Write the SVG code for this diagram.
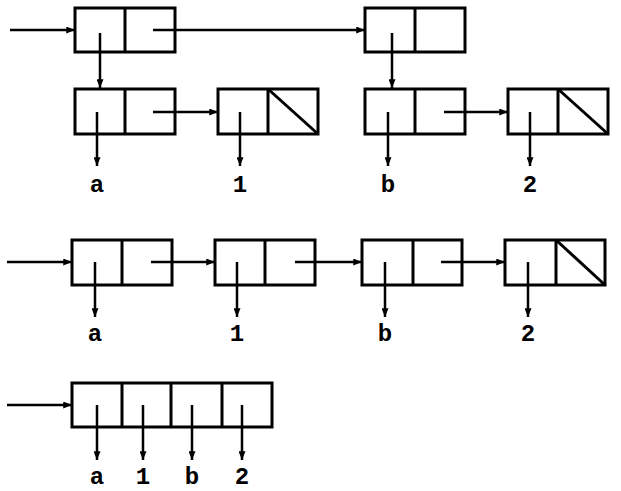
<svg xmlns="http://www.w3.org/2000/svg" width="621" height="491" viewBox="0 0 621 491">
<style>
.box{fill:none;stroke:#000;stroke-width:3}
.div{stroke:#000;stroke-width:3}
.ln{stroke:#000;stroke-width:2.5;fill:none;marker-end:url(#ah)}
.lbl{font-family:'Liberation Mono','DejaVu Sans Mono',monospace;font-weight:bold;font-size:24px;text-anchor:middle;fill:#000}
</style>
<defs>
<marker id="ah" viewBox="0 0 10 8" refX="10" refY="4" markerWidth="9" markerHeight="7" markerUnits="userSpaceOnUse" orient="auto">
<path d="M0,0 L10,4 L0,8 z" fill="#000"/>
</marker>
</defs>
<rect width="621" height="491" fill="#fff"/>

<!-- Diagram 1 -->
<g id="n1a"><rect class="box" x="75" y="8" width="100" height="44"/><line class="div" x1="125" y1="8" x2="125" y2="52"/></g>
<g id="n1b"><rect class="box" x="365" y="8" width="100" height="44"/><line class="div" x1="415" y1="8" x2="415" y2="52"/></g>
<g id="n1c"><rect class="box" x="75" y="89" width="100" height="45"/><line class="div" x1="125" y1="89" x2="125" y2="134"/></g>
<g id="n1d"><rect class="box" x="218" y="89" width="100" height="45"/><line class="div" x1="268" y1="89" x2="268" y2="134"/><line class="div" x1="268" y1="89" x2="318" y2="134"/></g>
<g id="n1e"><rect class="box" x="365" y="89" width="100" height="45"/><line class="div" x1="415" y1="89" x2="415" y2="134"/></g>
<g id="n1f"><rect class="box" x="508" y="89" width="100" height="45"/><line class="div" x1="558" y1="89" x2="558" y2="134"/><line class="div" x1="558" y1="89" x2="608" y2="134"/></g>
<g id="l1a"><text class="lbl" x="97" y="192">a</text></g>
<g id="l1b"><text class="lbl" x="240" y="192">1</text></g>
<g id="l1c"><text class="lbl" x="388" y="192">b</text></g>
<g id="l1d"><text class="lbl" x="530" y="192">2</text></g>

<!-- Diagram 2 -->
<g id="n2a"><rect class="box" x="72" y="240" width="100" height="45"/><line class="div" x1="122" y1="240" x2="122" y2="285"/></g>
<g id="n2b"><rect class="box" x="215" y="240" width="100" height="45"/><line class="div" x1="265" y1="240" x2="265" y2="285"/></g>
<g id="n2c"><rect class="box" x="362" y="240" width="100" height="45"/><line class="div" x1="413" y1="240" x2="413" y2="285"/></g>
<g id="n2d"><rect class="box" x="505" y="240" width="100" height="45"/><line class="div" x1="556" y1="240" x2="556" y2="285"/><line class="div" x1="556" y1="240" x2="605" y2="285"/></g>
<g id="l2a"><text class="lbl" x="95" y="341">a</text></g>
<g id="l2b"><text class="lbl" x="237" y="341">1</text></g>
<g id="l2c"><text class="lbl" x="385" y="341">b</text></g>
<g id="l2d"><text class="lbl" x="528" y="341">2</text></g>

<!-- Diagram 3 -->
<g id="n3"><rect class="box" x="72" y="383" width="200" height="44"/>
<line class="div" x1="122" y1="383" x2="122" y2="427"/>
<line class="div" x1="171" y1="383" x2="171" y2="427"/>
<line class="div" x1="222" y1="383" x2="222" y2="427"/></g>
<g id="l3a"><text class="lbl" x="97" y="484">a</text></g>
<g id="l3b"><text class="lbl" x="143" y="484">1</text></g>
<g id="l3c"><text class="lbl" x="192" y="484">b</text></g>
<g id="l3d"><text class="lbl" x="242" y="484">2</text></g>

<g id="connectors">
<!-- diagram 1 -->
<line class="ln" x1="10" y1="30" x2="75" y2="30"/>
<line class="ln" x1="153" y1="30" x2="365" y2="30"/>
<line class="ln" x1="100" y1="33" x2="100" y2="88"/>
<line class="ln" x1="392" y1="33" x2="392" y2="88"/>
<line class="ln" x1="97" y1="112" x2="97" y2="166"/>
<line class="ln" x1="153" y1="112" x2="218" y2="112"/>
<line class="ln" x1="240" y1="112" x2="240" y2="166"/>
<line class="ln" x1="388" y1="112" x2="388" y2="166"/>
<line class="ln" x1="444" y1="112" x2="508" y2="112"/>
<line class="ln" x1="530" y1="112" x2="530" y2="166"/>
<!-- diagram 2 -->
<line class="ln" x1="7" y1="262" x2="72" y2="262"/>
<line class="ln" x1="95" y1="262" x2="95" y2="317"/>
<line class="ln" x1="151" y1="262" x2="215" y2="262"/>
<line class="ln" x1="237" y1="262" x2="237" y2="317"/>
<line class="ln" x1="295" y1="262" x2="362" y2="262"/>
<line class="ln" x1="385" y1="262" x2="385" y2="317"/>
<line class="ln" x1="441" y1="262" x2="505" y2="262"/>
<line class="ln" x1="528" y1="262" x2="528" y2="317"/>
<!-- diagram 3 -->
<line class="ln" x1="7" y1="405" x2="72" y2="405"/>
<line class="ln" x1="97" y1="405" x2="97" y2="460"/>
<line class="ln" x1="143" y1="405" x2="143" y2="460"/>
<line class="ln" x1="192" y1="405" x2="192" y2="460"/>
<line class="ln" x1="242" y1="405" x2="242" y2="460"/>
</g>
</svg>
